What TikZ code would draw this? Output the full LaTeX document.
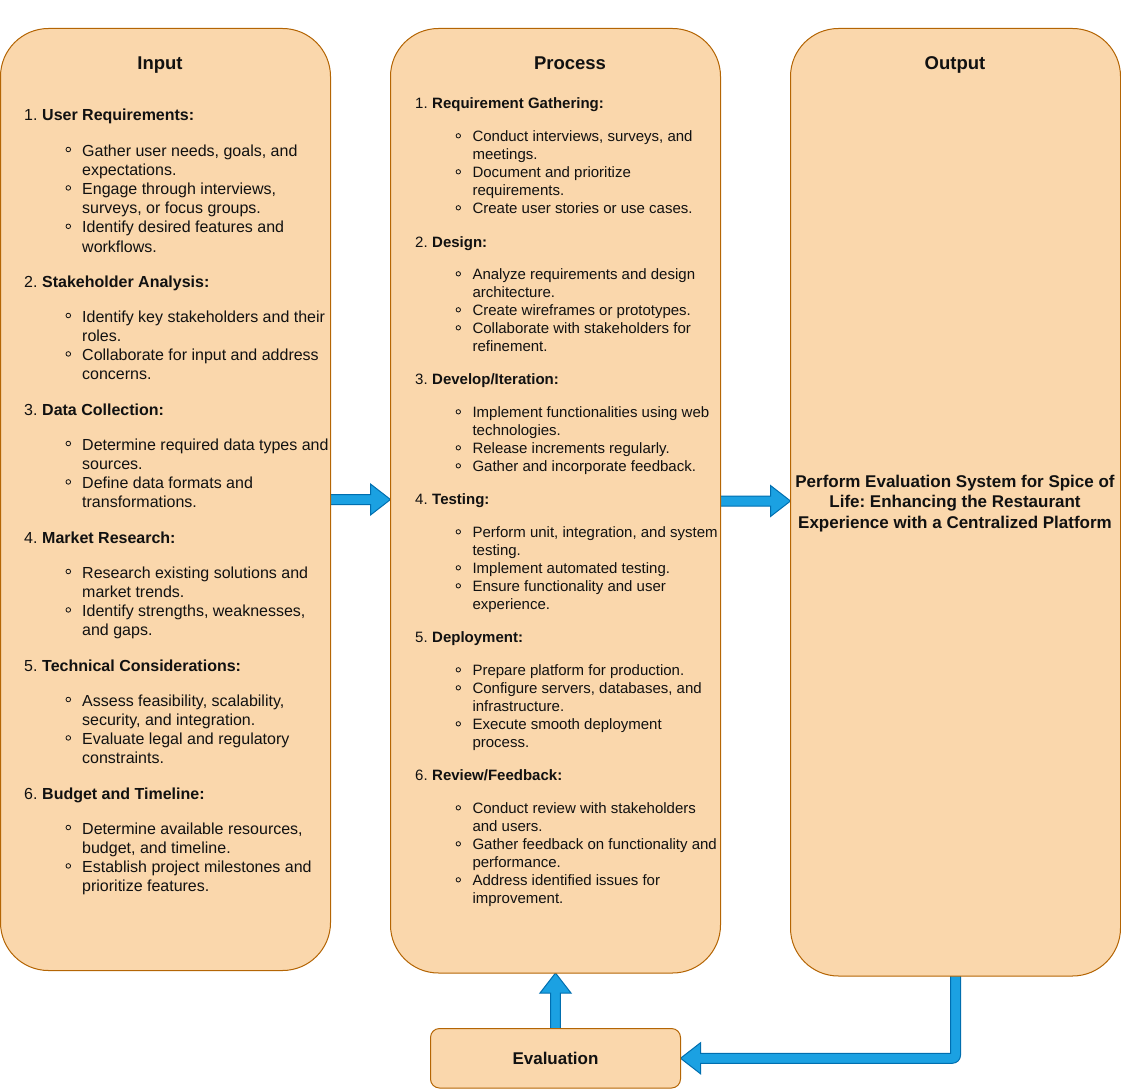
\documentclass[tikz,border=0pt]{standalone}
\usepackage{fontspec}
\setmainfont{Liberation Sans}
\usetikzlibrary{calc}
\frenchspacing

\definecolor{boxfill}{HTML}{FAD7AC}
\definecolor{boxline}{HTML}{B46504}
\definecolor{arrfill}{HTML}{1BA1E2}
\definecolor{arrline}{HTML}{006EAF}
\definecolor{ink}{HTML}{111111}

\tikzset{
  panel/.style={draw=boxline, fill=boxfill, line width=1pt, rounded corners=48pt,
    inner sep=0pt, outer sep=0pt},
  smallpanel/.style={panel, rounded corners=9pt},
  coltitle/.style={anchor=base, inner sep=0pt, text=ink,
    font=\fontsize{18.5}{22}\selectfont\bfseries},
  itext/.style={anchor=base west, inner sep=0pt, text=ink,
    font=\fontsize{16}{19.2}\selectfont},
  ptext/.style={anchor=base west, inner sep=0pt, text=ink,
    font=\fontsize{15}{18}\selectfont},
  bigbold/.style={inner sep=0pt, text=ink, align=center,
    font=\fontsize{17}{20.3}\selectfont\bfseries},
  bul/.style={draw=ink, line width=0.8pt},
  blockarrow/.style={fill=arrfill, draw=arrline, line width=1pt, line join=miter}
}

% input column: heading, first line of a bullet item, wrapped line
\newcommand\InHead[4]{\node[itext] (#1) at (24,#2+7) {\makebox[18pt][l]{#3.}\textbf{#4}};}
\newcommand\InItem[3]{\draw[bul] (68.3,#2+0.5) circle (2.3pt); \node[itext] (#1) at (82,#2+7) {#3};}
\newcommand\InMore[3]{\node[itext] (#1) at (82,#2+7) {#3};}
% process column
\newcommand\PrHead[4]{\node[ptext] (#1) at (415,#2+6.5) {\makebox[17pt][l]{#3.}\textbf{#4}};}
\newcommand\PrItem[3]{\draw[bul] (458.3,#2+0.8) circle (2.2pt); \node[ptext] (#1) at (472.3,#2+6.5) {#3};}
\newcommand\PrMore[3]{\node[ptext] (#1) at (472.3,#2+6.5) {#3};}

\begin{document}
\begin{tikzpicture}[x=1pt, y=-1pt]
\useasboundingbox (0,0) rectangle (1121,1089);

% the three columns and the evaluation box (placed first, drawn after the arrows)
\node[panel, draw=none, fill=none, minimum width=330pt, minimum height=942pt] (inbox) at (165.5,499.5) {};
\node[panel, draw=none, fill=none, minimum width=330pt, minimum height=944.5pt] (procbox) at (555.5,500.75) {};
\node[panel, draw=none, fill=none, minimum width=330pt, minimum height=947.5pt] (outbox) at (955.5,502.25) {};
\node[smallpanel, draw=none, fill=none, minimum width=250pt, minimum height=59.5pt] (evalbox) at (555.5,1058.25) {};

% block arrows
\coordinate (tipA) at (procbox.west |- inbox.east);
\path[blockarrow] ($(inbox.east)+(0,-5)$) -- ($(tipA)+(-20,-5)$) -- ($(tipA)+(-20,-15.5)$)
  -- (tipA) -- ($(tipA)+(-20,15.5)$) -- ($(tipA)+(-20,5)$) -- ($(inbox.east)+(0,5)$);

\coordinate (fromB) at (procbox.east |- 0,501);
\coordinate (tipB) at (outbox.west |- 0,501);
\path[blockarrow] ($(fromB)+(0,-5)$) -- ($(tipB)+(-20,-5)$) -- ($(tipB)+(-20,-15.5)$)
  -- (tipB) -- ($(tipB)+(-20,15.5)$) -- ($(tipB)+(-20,5)$) -- ($(fromB)+(0,5)$);

\coordinate (tipC) at (procbox.south);
\path[blockarrow] ($(evalbox.north)+(-4.8,0)$) -- ($(tipC)+(-4.8,20)$) -- ($(tipC)+(-15.5,20)$)
  -- (tipC) -- ($(tipC)+(15.5,20)$) -- ($(tipC)+(4.8,20)$) -- ($(evalbox.north)+(4.8,0)$);

\coordinate (elbow) at (outbox.south |- evalbox.east);
\path[blockarrow] ($(outbox.south)+(-5,0)$) -- ($(elbow)+(-5,-5)$) -- ($(evalbox.east)+(20,-5)$)
  -- ($(evalbox.east)+(20,-15.5)$) -- (evalbox.east) -- ($(evalbox.east)+(20,15.5)$)
  -- ($(evalbox.east)+(20,5)$) -- ($(elbow)+(-3,5)$)
  .. controls ($(elbow)+(1.4,5)$) and ($(elbow)+(5,1.4)$) .. ($(elbow)+(5,-3)$)
  -- ($(outbox.south)+(5,0)$);

% boxes
\draw[panel] (inbox.south west) rectangle (inbox.north east);
\draw[panel] (procbox.south west) rectangle (procbox.north east);
\draw[panel] (outbox.south west) rectangle (outbox.north east);
\draw[smallpanel] (evalbox.south west) rectangle (evalbox.north east);

% titles
\node[coltitle] (intitle) at (160,70) {Input};
\node[coltitle] (proctitle) at (570,70) {Process};
\node[coltitle] (outtitle) at (955,70) {Output};

% input column
\InHead{i1}{114}{1}{User Requirements:}
\InItem{i1a}{149}{Gather user needs, goals, and}
\InMore{i1b}{168.2}{expectations.}
\InItem{i1c}{187.4}{Engage through interviews,}
\InMore{i1d}{206.6}{surveys, or focus groups.}
\InItem{i1e}{225.8}{Identify desired features and}
\InMore{i1f}{245}{workflows.}

\InHead{i2}{280}{2}{Stakeholder Analysis:}
\InItem{i2a}{315}{Identify key stakeholders and their}
\InMore{i2b}{334.2}{roles.}
\InItem{i2c}{353.4}{Collaborate for input and address}
\InMore{i2d}{372.6}{concerns.}

\InHead{i3}{408}{3}{Data Collection:}
\InItem{i3a}{443}{Determine required data types and}
\InMore{i3b}{462.2}{sources.}
\InItem{i3c}{481.4}{Define data formats and}
\InMore{i3d}{500.6}{transformations.}

\InHead{i4}{536}{4}{Market Research:}
\InItem{i4a}{571}{Research existing solutions and}
\InMore{i4b}{590.2}{market trends.}
\InItem{i4c}{609.4}{Identify strengths, weaknesses,}
\InMore{i4d}{628.6}{and gaps.}

\InHead{i5}{664}{5}{Technical Considerations:}
\InItem{i5a}{699}{Assess feasibility, scalability,}
\InMore{i5b}{718.2}{security, and integration.}
\InItem{i5c}{737.4}{Evaluate legal and regulatory}
\InMore{i5d}{756.6}{constraints.}

\InHead{i6}{792}{6}{Budget and Timeline:}
\InItem{i6a}{827}{Determine available resources,}
\InMore{i6b}{846.2}{budget, and timeline.}
\InItem{i6c}{865.4}{Establish project milestones and}
\InMore{i6d}{884.6}{prioritize features.}

% process column
\PrHead{p1}{102}{1}{Requirement Gathering:}
\PrItem{p1a}{135}{Conduct interviews, surveys, and}
\PrMore{p1b}{153}{meetings.}
\PrItem{p1c}{171}{Document and prioritize}
\PrMore{p1d}{189}{requirements.}
\PrItem{p1e}{207}{Create user stories or use cases.}

\PrHead{p2}{241}{2}{Design:}
\PrItem{p2a}{273}{Analyze requirements and design}
\PrMore{p2b}{291}{architecture.}
\PrItem{p2c}{309}{Create wireframes or prototypes.}
\PrItem{p2d}{327}{Collaborate with stakeholders for}
\PrMore{p2e}{345}{refinement.}

\PrHead{p3}{378}{3}{Develop/Iteration:}
\PrItem{p3a}{411}{Implement functionalities using web}
\PrMore{p3b}{429}{technologies.}
\PrItem{p3c}{447}{Release increments regularly.}
\PrItem{p3d}{465}{Gather and incorporate feedback.}

\PrHead{p4}{498}{4}{Testing:}
\PrItem{p4a}{531}{Perform unit, integration, and system}
\PrMore{p4b}{549}{testing.}
\PrItem{p4c}{567}{Implement automated testing.}
\PrItem{p4d}{585}{Ensure functionality and user}
\PrMore{p4e}{603}{experience.}

\PrHead{p5}{636}{5}{Deployment:}
\PrItem{p5a}{669}{Prepare platform for production.}
\PrItem{p5b}{687}{Configure servers, databases, and}
\PrMore{p5c}{705}{infrastructure.}
\PrItem{p5d}{723}{Execute smooth deployment}
\PrMore{p5e}{741}{process.}

\PrHead{p6}{774}{6}{Review/Feedback:}
\PrItem{p6a}{807}{Conduct review with stakeholders}
\PrMore{p6b}{825}{and users.}
\PrItem{p6c}{843}{Gather feedback on functionality and}
\PrMore{p6d}{861}{performance.}
\PrItem{p6e}{879}{Address identified issues for}
\PrMore{p6f}{897}{improvement.}

% output and evaluation texts
\node[bigbold] (outtext) at (955,503.5) {Perform Evaluation System for Spice of\\Life: Enhancing the Restaurant\\Experience with a Centralized Platform};
\node[bigbold] (evaltext) at (555.5,1058) {Evaluation};
\end{tikzpicture}
\end{document}
